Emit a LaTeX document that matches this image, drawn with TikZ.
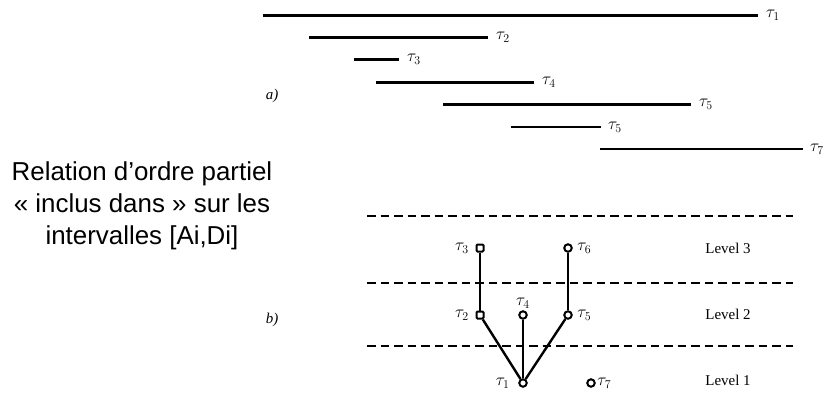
\documentclass[tikz,border=0pt]{standalone}
\usepackage{fontspec}
\setmainfont{Liberation Serif}
\newfontfamily\arialfont{Liberation Sans}
\usepackage{tikz}
\usetikzlibrary{positioning}
\tikzset{
  ival/.style={line width=3bp},
  ivalthin/.style={line width=1.3bp},
  lvl/.style={line width=2.6bp, dash pattern=on 8.5bp off 5bp},
  sqtask/.style={draw, line width=2bp, fill=white, rectangle, rounded corners=1bp,
    minimum size=7bp, inner sep=0pt},
  ctask/.style={draw, line width=2bp, fill=white, circle, minimum size=7.5bp, inner sep=0pt},
  tlbl/.style={font=\fontsize{17}{19}\selectfont, inner sep=1.5bp},
  lvllbl/.style={font=\fontsize{15}{17}\selectfont},
  thk/.style={line width=2.4bp},
  thn/.style={line width=1.2bp}
}

\begin{document}
\begin{tikzpicture}[x=1bp, y=-1bp]
  \useasboundingbox (0,0) rectangle (828,404);

  % left caption
  \node[align=center, font=\arialfont\fontsize{26}{32}\selectfont] (rel) at (142,206)
    {Relation d’ordre partiel\\« inclus dans » sur les\\intervalles [Ai,Di]};

  % a) intervals
  \node[lvllbl] (pa) at (272,96) {\itshape a)};
  \foreach \n/\xa/\xb/\y/\s/\t in {1/263/758/15/ival/1, 2/309/488/37/ival/2,
      3/354/399/59/ival/3, 4/376/534/82/ival/4, 5/443/691/104/ival/5,
      6/511/601/127/ivalthin/5, 7/600/803/149/ivalthin/7} {
    \coordinate (a\n) at (\xa,\y);
    \coordinate (b\n) at (\xb,\y);
    \draw[\s] (a\n) -- (b\n) node[tlbl, right=5bp] (i\n) {$\tau_{\t}$};
  }

  % b) levels
  \node[lvllbl] (pb) at (272,320) {\itshape b)};
  \foreach \n/\y in {3/216, 2/283, 1/346} {
    \coordinate (da\n) at (367,\y);
    \coordinate (db\n) at (793,\y);
    \draw[lvl] (da\n) -- (db\n);
  }
  \node[lvllbl] (lv3) at (728,248) {Level 3};
  \node[lvllbl] (lv2) at (728,314) {Level 2};
  \node[lvllbl] (lv1) at (728,380) {Level 1};

  % tasks
  \node[sqtask] (t3) at (480,248) {};
  \node[ctask] (t6) at (568,248) {};
  \node[sqtask] (t2) at (480,315) {};
  \node[ctask] (t4) at (523,315) {};
  \node[ctask] (t5) at (568,315) {};
  \node[ctask] (t1) at (523,383) {};
  \node[ctask] (t7) at (591,383) {};

  \node[tlbl, left=5bp of t3] (l3) {$\tau_3$};
  \node[tlbl, right=3bp of t6] (l6) {$\tau_6$};
  \node[tlbl, left=5bp of t2] (l2) {$\tau_2$};
  \node[tlbl, above=0bp of t4] (l4) {$\tau_4$};
  \node[tlbl, right=3bp of t5] (l5) {$\tau_5$};
  \node[tlbl, left=7bp of t1] (l1) {$\tau_1$};
  \node[tlbl, right=0bp of t7] (l7) {$\tau_7$};

  \foreach \a/\b/\s in {t3/t2/thk, t6/t5/thn, t2/t1/thk, t4/t1/thn, t5/t1/thk}
    \draw[\s] (\a) -- (\b);
\end{tikzpicture}
\end{document}
